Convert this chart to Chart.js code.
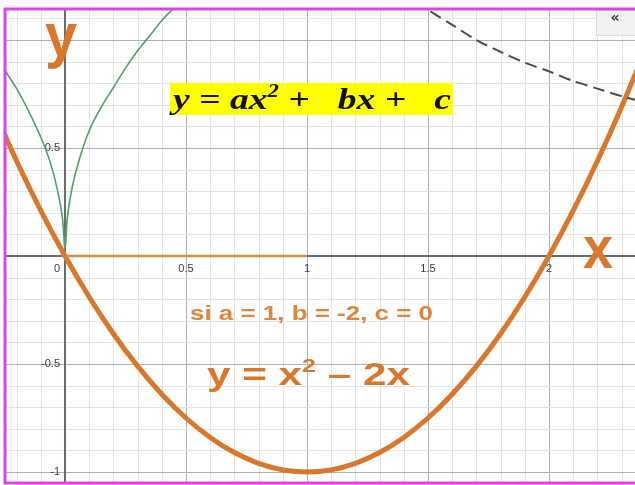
<!DOCTYPE html>
<html>
<head>
<meta charset="utf-8">
<script src="https://cdn.jsdelivr.net/npm/chart.js@4.4.1/dist/chart.umd.min.js"></script>
<style>
  html, body { margin: 0; padding: 0; background: #fff; overflow: hidden; }
  #grafica { display: block; }
</style>
</head>
<body>
<canvas id="grafica" width="635" height="485"></canvas>
<script>
// parábola y = x^2 - 2x
const parabolaX = [-0.3, -0.2, -0.1, 0, 0.1, 0.2, 0.3, 0.4, 0.5, 0.6, 0.7, 0.8, 0.9, 1,
                   1.1, 1.2, 1.3, 1.4, 1.5, 1.6, 1.7, 1.8, 1.9, 2, 2.1, 2.2, 2.3, 2.4];
const parabolaY = [0.69, 0.44, 0.21, 0, -0.19, -0.36, -0.51, -0.64, -0.75, -0.84, -0.91, -0.96, -0.99, -1,
                   -0.99, -0.96, -0.91, -0.84, -0.75, -0.64, -0.51, -0.36, -0.19, 0, 0.21, 0.44, 0.69, 0.96];

// curva verde con pico en el origen
const verdeX = [-0.26, -0.2, -0.15, -0.1, -0.06, -0.03, -0.01, 0, 0.01, 0.03, 0.06, 0.1, 0.15, 0.2, 0.25, 0.3, 0.35, 0.4, 0.46];
const verdeY = [0.88, 0.775, 0.67, 0.55, 0.43, 0.3, 0.17, 0.03, 0.18, 0.32, 0.45, 0.58, 0.69, 0.78, 0.87, 0.95, 1.02, 1.09, 1.16];

// curva gris discontinua (arriba a la derecha)
const discontX = [1.45, 1.5, 1.6, 1.7, 1.8, 1.9, 2.0, 2.1, 2.2, 2.3, 2.4];
const discontY = [1.18, 1.14, 1.07, 1.0, 0.945, 0.895, 0.855, 0.81, 0.775, 0.74, 0.71];

// segmento naranja sobre el eje x
const segmentoX = [0, 1];
const segmentoY = [0, 0];

// etiquetas de los ejes
const etiquetasX = [0, 0.5, 1, 1.5, 2];
const etiquetasY = [0.5, -0.5, -1];

const NARANJA = '#d9772b';

function puntos(xs, ys) {
  return xs.map((x, i) => ({ x: x, y: ys[i] }));
}

// dibuja varios trozos de texto seguidos, estirados al ancho indicado
function textoAncho(ctx, trozos, x, base, ancho, color) {
  ctx.save();
  let total = 0;
  trozos.forEach(t => { ctx.font = t.f; total += ctx.measureText(t.t).width; });
  ctx.translate(x, base);
  ctx.scale(ancho / total, 1);
  ctx.fillStyle = color;
  ctx.textBaseline = 'alphabetic';
  ctx.textAlign = 'left';
  let pos = 0;
  trozos.forEach(t => {
    ctx.font = t.f;
    ctx.fillText(t.t, pos, t.dy || 0);
    pos += ctx.measureText(t.t).width;
  });
  ctx.restore();
}

const cuadricula = {
  id: 'cuadricula',
  beforeDatasetsDraw(chart) {
    const { ctx, chartArea: a, scales: { x, y } } = chart;
    ctx.save();
    ctx.beginPath();
    ctx.rect(a.left, a.top, a.right - a.left, a.bottom - a.top);
    ctx.clip();

    const linea = (x1, y1, x2, y2, color, w) => {
      ctx.beginPath();
      ctx.strokeStyle = color;
      ctx.lineWidth = w;
      ctx.moveTo(x1, y1);
      ctx.lineTo(x2, y2);
      ctx.stroke();
    };

    for (let i = Math.ceil(x.min * 10); i <= Math.floor(x.max * 10); i++) {
      const px = Math.round(x.getPixelForValue(i / 10)) + 0.5;
      linea(px, a.top, px, a.bottom, i % 5 === 0 ? '#b0b0b0' : '#e4e4e4', 1);
    }
    for (let i = Math.ceil(y.min * 10); i <= Math.floor(y.max * 10); i++) {
      const py = Math.round(y.getPixelForValue(i / 10)) + 0.5;
      linea(a.left, py, a.right, py, i % 5 === 0 ? '#b0b0b0' : '#e4e4e4', 1);
    }

    const x0 = x.getPixelForValue(0);
    const y0 = y.getPixelForValue(0);
    linea(x0, a.top, x0, a.bottom, '#6c6c6c', 2);
    linea(a.left, y0, a.right, y0, '#6c6c6c', 2);

    // números de los ejes
    ctx.fillStyle = '#3a3a3a';
    ctx.font = '11px "Liberation Sans", Arial, sans-serif';
    ctx.textBaseline = 'middle';
    etiquetasX.forEach(v => {
      ctx.textAlign = 'center';
      const px = v === 0 ? x0 - 8 : x.getPixelForValue(v);
      ctx.fillText(String(v), px, y0 + 13);
    });
    etiquetasY.forEach(v => {
      ctx.textAlign = 'right';
      ctx.fillText(String(v), x0 - 5, y.getPixelForValue(v));
    });
    ctx.restore();
  },
  afterDatasetsDraw(chart) {
    const { ctx } = chart;

    // recuadro amarillo con la forma general
    ctx.fillStyle = '#ffff00';
    ctx.fillRect(170, 83, 283, 32);
    const serif = 'italic bold 30px "Liberation Serif", "Times New Roman", serif';
    const serifPeq = 'italic bold 18px "Liberation Serif", "Times New Roman", serif';
    textoAncho(ctx, [
      { t: 'y = ax', f: serif },
      { t: '2', f: serifPeq, dy: -12 },
      { t: ' +   bx +   c', f: serif }
    ], 173, 109, 278, '#111');

    // letras de los ejes
    textoAncho(ctx, [{ t: 'y', f: 'bold 62px "Liberation Sans", Arial, sans-serif' }], 45, 56, 32, NARANJA);
    textoAncho(ctx, [{ t: 'x', f: 'bold 60px "Liberation Sans", Arial, sans-serif' }], 583, 268, 30, NARANJA);

    // caso particular
    textoAncho(ctx, [{ t: 'si a = 1, b = -2, c = 0', f: 'bold 21px "Liberation Sans", Arial, sans-serif' }],
      190, 320, 243, '#e0853a');
    const sans = 'bold 32px "Liberation Sans", Arial, sans-serif';
    textoAncho(ctx, [
      { t: 'y = x', f: sans },
      { t: '2', f: 'bold 19px "Liberation Sans", Arial, sans-serif', dy: -13 },
      { t: ' – 2x', f: sans }
    ], 207, 385, 203, NARANJA);
  },
  afterDraw(chart) {
    const { ctx } = chart;
    // botón gris de la esquina
    ctx.save();
    ctx.fillStyle = '#f2f2f2';
    ctx.fillRect(596, 10, 39, 25);
    ctx.strokeStyle = '#dedede';
    ctx.strokeRect(596.5, 10.5, 40, 25);
    ctx.fillStyle = '#333';
    ctx.font = 'bold 14px "DejaVu Sans", sans-serif';
    ctx.textAlign = 'center';
    ctx.textBaseline = 'middle';
    ctx.fillText('«', 615, 18);
    // marco magenta
    ctx.strokeStyle = '#e040ee';
    ctx.lineWidth = 3;
    ctx.beginPath();
    ctx.moveTo(640, 9);
    ctx.lineTo(5, 9);
    ctx.lineTo(5, 483);
    ctx.lineTo(640, 483);
    ctx.stroke();
    ctx.restore();
  }
};

new Chart(document.getElementById('grafica'), {
  type: 'scatter',
  data: {
    datasets: [
      {
        data: puntos(segmentoX, segmentoY),
        showLine: true,
        borderColor: '#e28a3e',
        borderWidth: 2.5,
        pointRadius: 0
      },
      {
        data: puntos(verdeX, verdeY),
        showLine: true,
        borderColor: '#4f9e6e',
        borderWidth: 1.6,
        pointRadius: 0,
        tension: 0.3
      },
      {
        data: puntos(discontX, discontY),
        showLine: true,
        borderColor: '#4a4a4a',
        borderWidth: 2,
        borderDash: [12, 6],
        pointRadius: 0,
        tension: 0.3
      },
      {
        data: puntos(parabolaX, parabolaY),
        showLine: true,
        borderColor: NARANJA,
        borderWidth: 5,
        pointRadius: 0,
        tension: 0.3
      }
    ]
  },
  options: {
    responsive: false,
    animation: false,
    layout: { padding: { left: 6, top: 9, right: 0, bottom: 2 } },
    plugins: { legend: { display: false }, tooltip: { enabled: false } },
    scales: {
      x: { type: 'linear', display: false, min: -0.2438, max: 2.3554 },
      y: { type: 'linear', display: false, min: -1.0509, max: 1.1435 }
    }
  },
  plugins: [cuadricula]
});
</script>
</body>
</html>
